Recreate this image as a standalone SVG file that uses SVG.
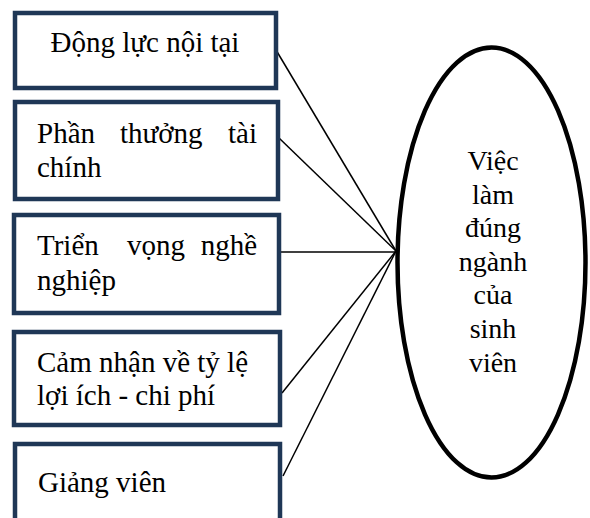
<svg xmlns="http://www.w3.org/2000/svg" width="590" height="518" viewBox="0 0 590 518">
<style>
.box{fill:#fff;stroke:#1f3756;stroke-width:4.5}
.c{stroke:#000;stroke-width:1.5;fill:none}
</style>
<rect width="590" height="518" fill="#fff"/>
<g id="connectors">
<line class="c" x1="276" y1="50" x2="396" y2="251"/>
<line class="c" x1="279" y1="138" x2="396" y2="251"/>
<line class="c" x1="281" y1="252" x2="396" y2="252"/>
<line class="c" x1="282" y1="393" x2="396" y2="251"/>
<line class="c" x1="283" y1="476" x2="396" y2="251"/>
</g>
<g font-family="Liberation Serif, Times New Roman, Times, serif" font-size="29" fill="#000">
<g id="n1">
<rect class="box" x="15" y="13" width="261" height="75"/>
<text x="145" y="52" text-anchor="middle">Động lực nội tại</text>
</g>
<g id="n2">
<rect class="box" x="15" y="102" width="263" height="97"/>
<text x="37" y="143">Phần</text>
<text x="120" y="143">thưởng</text>
<text x="257" y="143" text-anchor="end">tài</text>
<text x="37" y="177">chính</text>
</g>
<g id="n3">
<rect class="box" x="14" y="215" width="265" height="98"/>
<text x="37" y="255">Triển</text>
<text x="127" y="255">vọng</text>
<text x="257" y="255" text-anchor="end">nghề</text>
<text x="37" y="290">nghiệp</text>
</g>
<g id="n4">
<rect class="box" x="14" y="332" width="266" height="93"/>
<text x="37" y="372">Cảm nhận về tỷ lệ</text>
<text x="37" y="405">lợi ích - chi phí</text>
</g>
<g id="n5">
<rect class="box" x="15" y="444" width="265" height="90"/>
<text x="38" y="492">Giảng viên</text>
</g>
<g id="target" font-size="28" text-anchor="middle">
<ellipse cx="491.5" cy="262.5" rx="94" ry="215" fill="#fff" stroke="#000" stroke-width="4.5"/>
<text x="493" y="170">Việc</text>
<text x="493" y="204">làm</text>
<text x="493" y="237">đúng</text>
<text x="493" y="271">ngành</text>
<text x="493" y="304">của</text>
<text x="493" y="338">sinh</text>
<text x="493" y="372">viên</text>
</g>
</g>
</svg>
